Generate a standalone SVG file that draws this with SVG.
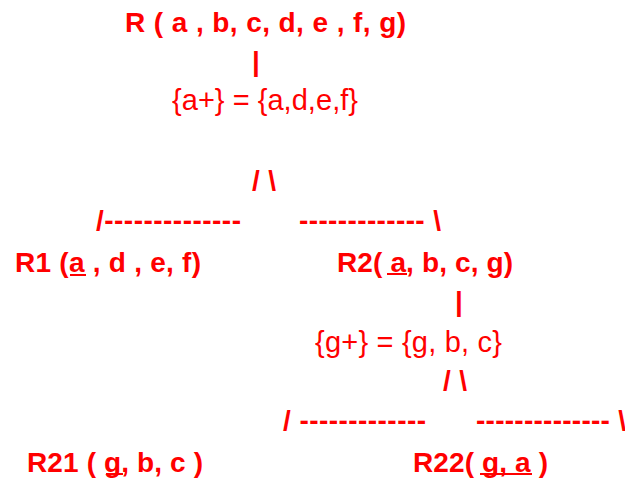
<svg xmlns="http://www.w3.org/2000/svg" width="625" height="479" viewBox="0 0 625 479">
<style>
text{fill:#FF0000;font-family:"Liberation Sans",Arial,sans-serif;}
.b{font-weight:bold;font-size:28px;}
.r{font-size:29px;}
.ul{stroke:#FF0000;stroke-width:2;}
</style>
<rect width="625" height="479" fill="#FFFFFF"/>
<g id="R"><text class="b" x="125" y="32" textLength="281" lengthAdjust="spacing">R ( a , b, c, d, e , f, g)</text></g>
<g id="connectors">
<text class="b" x="252" y="71">|</text>
<text class="b" x="252" y="190" textLength="24" lengthAdjust="spacing">/ \</text>
<text class="b" x="96" y="230" textLength="145" lengthAdjust="spacing">/--------------</text>
<text class="b" x="299" y="230" textLength="142" lengthAdjust="spacing">------------- \</text>
<text class="b" x="455" y="311">|</text>
<text class="b" x="443" y="390" textLength="24" lengthAdjust="spacing">/ \</text>
<text class="b" x="283" y="430" textLength="143" lengthAdjust="spacing">/ -------------</text>
<text class="b" x="476" y="430" textLength="150" lengthAdjust="spacing">-------------- \</text>
</g>
<g id="closureA"><text class="r" x="172" y="110" textLength="186" lengthAdjust="spacing">{a+} = {a,d,e,f}</text></g>
<g id="R1"><text class="b" x="15" y="272" textLength="186" lengthAdjust="spacing">R1 (a , d , e, f)</text><line class="ul" x1="70" y1="275" x2="86" y2="275"/></g>
<g id="R2"><text class="b" x="337" y="272" textLength="176" lengthAdjust="spacing">R2( a, b, c, g)</text><line class="ul" x1="387" y1="274" x2="407" y2="274"/></g>
<g id="closureG"><text class="r" x="315" y="352" textLength="187" lengthAdjust="spacing">{g+} = {g, b, c}</text></g>
<g id="R21"><text class="b" x="27" y="472" textLength="176" lengthAdjust="spacing">R21 ( g, b, c )</text><line class="ul" x1="106" y1="474" x2="123" y2="474"/></g>
<g id="R22"><text class="b" x="413" y="472" textLength="135" lengthAdjust="spacing">R22( g, a )</text><line class="ul" x1="480" y1="474" x2="532" y2="474"/></g>
</svg>
